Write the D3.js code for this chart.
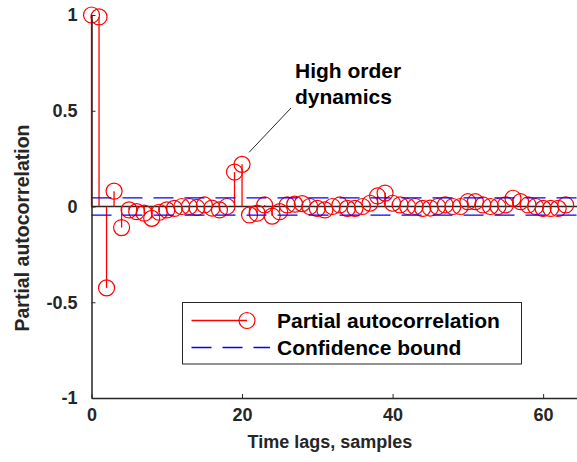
<!DOCTYPE html>
<html>
<head>
<meta charset="utf-8">
<script src="https://cdn.jsdelivr.net/npm/d3@7"></script>
<style>
  html, body { margin: 0; padding: 0; background: #fff; }
  svg { display: block; font-family: "Liberation Sans", Arial, sans-serif; font-weight: bold; }
</style>
</head>
<body>
<svg id="chart" width="577" height="462"></svg>
<script>
// Partial autocorrelation per lag (lag 0 .. 63)
const lags = d3.range(0, 64);
const pacf = [
  1.0, 0.99, -0.425, 0.08, -0.11, -0.018, -0.027, -0.035, -0.062, -0.03,
  -0.018, -0.01, 0.0, 0.0, -0.005, 0.008, -0.008, -0.018, 0.0, 0.18,
  0.22, -0.044, -0.035, 0.008, -0.05, -0.027, 0.008, 0.012, 0.015, 0.0,
  -0.01, -0.018, 0.0, 0.008, -0.01, -0.01, 0.0, 0.017, 0.055, 0.07,
  0.017, 0.008, 0.0, 0.0, -0.01, -0.008, 0.0, 0.008, 0.0, 0.0,
  0.025, 0.025, 0.008, 0.0, 0.0, 0.008, 0.043, 0.025, 0.008, 0.0,
  -0.01, -0.01, -0.01, 0.008
];
const confBound = 0.045;
const xTicks = [0, 20, 40, 60];
const yTicks = [-1, -0.5, 0, 0.5, 1];
const xDomain = [0, 64.5];
const yDomain = [-1, 1];
const legendLabels = ["Partial autocorrelation", "Confidence bound"];
const annotationLines = ["High order", "dynamics"];
const annotatedLag = 20;

const svg = d3.select("#chart");
const W = 577, H = 462;
const m = { left: 91.5, right: 0, top: 15, bottom: 64 };

const x = d3.scaleLinear().domain(xDomain).range([m.left, W - m.right]);
const y = d3.scaleLinear().domain(yDomain).range([H - m.bottom, m.top]);

const RED = "#ff0000", BLUE = "#0000ff", AX = "#262626";

// Zero baseline
svg.append("line")
  .attr("x1", x(0)).attr("x2", x(xDomain[1]))
  .attr("y1", y(0)).attr("y2", y(0))
  .attr("stroke", AX).attr("stroke-width", 1.5);

// Stems and markers
const g = svg.append("g");
g.selectAll("line.stem").data(lags).join("line")
  .attr("class", "stem")
  .attr("x1", d => x(d)).attr("x2", d => x(d))
  .attr("y1", y(0)).attr("y2", d => y(pacf[d]))
  .attr("stroke", RED).attr("stroke-width", 1.3);
g.selectAll("circle").data(lags).join("circle")
  .attr("cx", d => x(d)).attr("cy", d => y(pacf[d]))
  .attr("r", 8)
  .attr("fill", "none").attr("stroke", RED).attr("stroke-width", 1.2);

// Confidence bounds
[confBound, -confBound].forEach(b => {
  svg.append("line")
    .attr("x1", x(0)).attr("x2", x(xDomain[1]))
    .attr("y1", y(b)).attr("y2", y(b))
    .attr("stroke", BLUE).attr("stroke-width", 1.3)
    .attr("stroke-dasharray", "20,11");
});

// Axes (ticks point inward)
const yAxis = d3.axisLeft(y).tickValues(yTicks)
  .tickFormat(d => String(d))
  .tickSizeInner(-4).tickSizeOuter(0).tickPadding(14);
const xAxis = d3.axisBottom(x).tickValues(xTicks)
  .tickFormat(d3.format("d"))
  .tickSizeInner(-4).tickSizeOuter(0).tickPadding(10);

const gy = svg.append("g").attr("transform", `translate(${m.left},0)`).call(yAxis);
const gx = svg.append("g").attr("transform", `translate(0,${H - m.bottom})`).call(xAxis);
[gx, gy].forEach(a => {
  a.select(".domain").attr("stroke", AX).attr("stroke-width", 1.5);
  a.selectAll(".tick line").attr("stroke", AX).attr("stroke-width", 1);
  a.selectAll(".tick text")
    .attr("fill", "#262626")
    .style("font-size", "18px").style("font-weight", "bold")
    .style("font-family", "'Liberation Sans', Arial, sans-serif");
});

// Axis titles
svg.append("text")
  .attr("x", 330).attr("y", 448)
  .attr("text-anchor", "middle")
  .attr("fill", "#262626").style("font-size", "18px")
  .text("Time lags, samples");
svg.append("text")
  .attr("transform", "translate(29,228) rotate(-90)")
  .attr("text-anchor", "middle")
  .attr("fill", "#262626").style("font-size", "19.5px")
  .text("Partial autocorrelation");

// Annotation
svg.append("line")
  .attr("x1", 291).attr("y1", 108)
  .attr("x2", x(annotatedLag) + 7).attr("y2", y(pacf[annotatedLag]) - 12)
  .attr("stroke", AX).attr("stroke-width", 1);
svg.append("text")
  .attr("x", 295).attr("y", 78)
  .attr("fill", "#000").style("font-size", "21px")
  .selectAll("tspan").data(annotationLines).join("tspan")
  .attr("x", 295).attr("dy", (d, i) => i === 0 ? 0 : 26)
  .text(d => d);

// Legend
const lg = svg.append("g");
lg.append("rect")
  .attr("x", 182.5).attr("y", 302.5).attr("width", 339).attr("height", 61.5)
  .attr("fill", "#fff").attr("stroke", AX).attr("stroke-width", 1);
lg.append("line")
  .attr("x1", 191.5).attr("x2", 247).attr("y1", 320.5).attr("y2", 320.5)
  .attr("stroke", RED).attr("stroke-width", 1.3);
lg.append("circle")
  .attr("cx", 247).attr("cy", 320.5).attr("r", 8)
  .attr("fill", "none").attr("stroke", RED).attr("stroke-width", 1.2);
lg.append("line")
  .attr("x1", 191.5).attr("x2", 270).attr("y1", 347.5).attr("y2", 347.5)
  .attr("stroke", BLUE).attr("stroke-width", 1.3)
  .attr("stroke-dasharray", "20,11");
lg.selectAll("text").data(legendLabels).join("text")
  .attr("x", 277).attr("y", (d, i) => 327.5 + i * 27)
  .attr("fill", "#000").style("font-size", "21px")
  .text(d => d);
</script>
</body>
</html>
